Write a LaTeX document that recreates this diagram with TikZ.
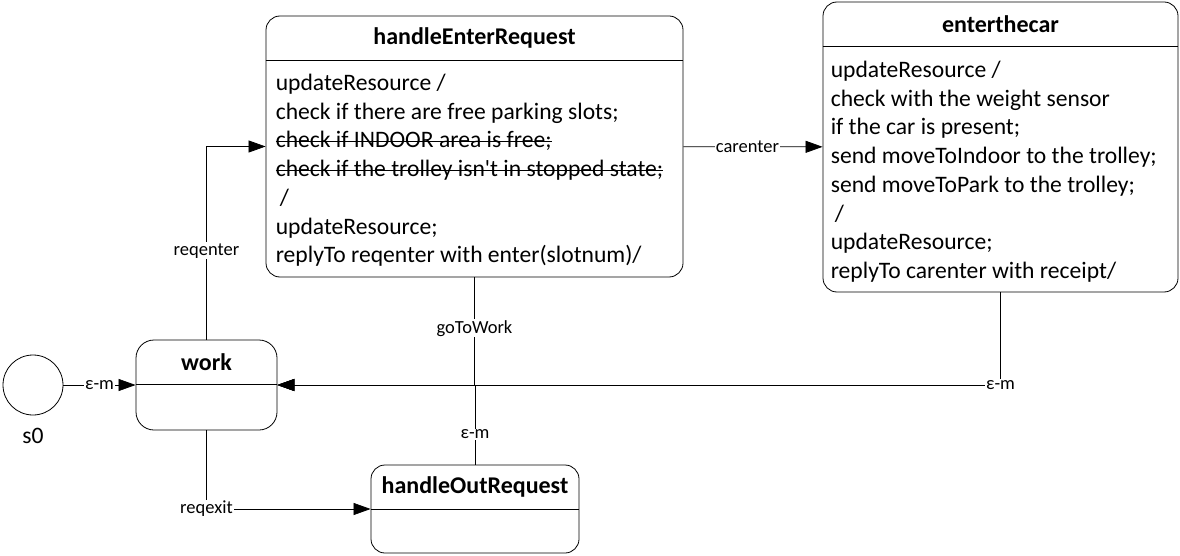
\documentclass[tikz,border=0pt]{standalone}
\usepackage{fontspec}
\setmainfont{Carlito}
\usetikzlibrary{arrows.meta,positioning}

\newsavebox\strkbox
\newcommand{\strk}[1]{\sbox\strkbox{#1}\rlap{\rule[0.27em]{\wd\strkbox}{0.8pt}}\usebox\strkbox}

\tikzset{
  state/.style={draw, rounded corners=14pt, line width=0.8pt},
  stitle/.style={font=\fontsize{24}{28}\selectfont\bfseries, minimum height=44pt, anchor=north, inner sep=0pt},
  sbody/.style={font=\fontsize{23.6}{28.7}\selectfont, align=left, anchor=north west, inner sep=0pt},
  trans/.style={draw, line width=0.75pt, -{Triangle[length=17pt,width=12pt]}},
  lbl/.style={font=\fontsize{18.5}{22}\selectfont, fill=white, inner sep=1pt},
}

\begin{document}
\begin{tikzpicture}[x=1pt, y=-1pt]
    \useasboundingbox (0,0) rectangle (1180,556);

    % initial state
    \node[draw, circle, minimum size=60pt, line width=0.8pt] (s0) at (33,385) {};
    \node[below=9pt of s0, font=\fontsize{23.6}{28}\selectfont] (s0name) {s0};

    % work
    \node[state, rounded corners=18pt, minimum width=141pt, minimum height=90pt] (work) at (206.5,385) {};
    \node[stitle] (worktitle) at (work.north) {work};
    \draw[line width=0.8pt] (work.west |- worktitle.south) -- (work.east |- worktitle.south);

    % handleEnterRequest
    \node[state, minimum width=417pt, minimum height=261pt] (her) at (474.5,146.5) {};
    \node[stitle] (hertitle) at (her.north) {handleEnterRequest};
    \draw[line width=0.8pt] (her.west |- hertitle.south) coordinate (herhdr) -- (her.east |- hertitle.south);
    \node[sbody, below right=14pt and 10pt of herhdr] (herbody) {updateResource /\\
      check if there are free parking slots;\\
      \strk{check if INDOOR area is free;}\\
      \strk{check if the trolley isn\textquotesingle t in stopped state;}\\
      \hspace*{4pt}/\\
      updateResource;\\
      replyTo reqenter with enter(slotnum)/};

    % enterthecar
    \node[state, minimum width=355pt, minimum height=290pt] (etc) at (1000.5,147) {};
    \node[stitle] (etctitle) at (etc.north) {enterthecar};
    \draw[line width=0.8pt] (etc.west |- etctitle.south) coordinate (etchdr) -- (etc.east |- etctitle.south);
    \node[sbody, below right=15pt and 8pt of etchdr] (etcbody) {updateResource /\\
      check with the weight sensor\\
      if the car is present;\\
      send moveToIndoor to the trolley;\\
      send moveToPark to the trolley;\\
      \hspace*{4pt}/\\
      updateResource;\\
      replyTo carenter with receipt/};

    % handleOutRequest
    \node[state, minimum width=208pt, minimum height=88pt] (hor) at (475,509) {};
    \node[stitle] (hortitle) at (hor.north) {handleOutRequest};
    \draw[line width=0.8pt] (hor.west |- hortitle.south) -- (hor.east |- hortitle.south);

    % transitions
    \draw[trans] (s0) -- node[lbl] {ε-m} (work);
    \draw[trans] (work.north) |- node[lbl, pos=0.23] {reqenter} (her);
    \draw[trans] (her) -- node[lbl, pos=0.46] {carenter} (etc);
    \draw[trans] (etc.south) |- node[lbl] {ε-m} (work);
    \draw[trans] (her.south) |- node[lbl, pos=0.236] {goToWork} (work);
    \draw[trans] (hor.north) |- node[lbl, pos=0.19] {ε-m} (work);
    \draw[trans] (work.south) |- node[lbl] {reqexit} (hor);

\end{tikzpicture}
\end{document}
